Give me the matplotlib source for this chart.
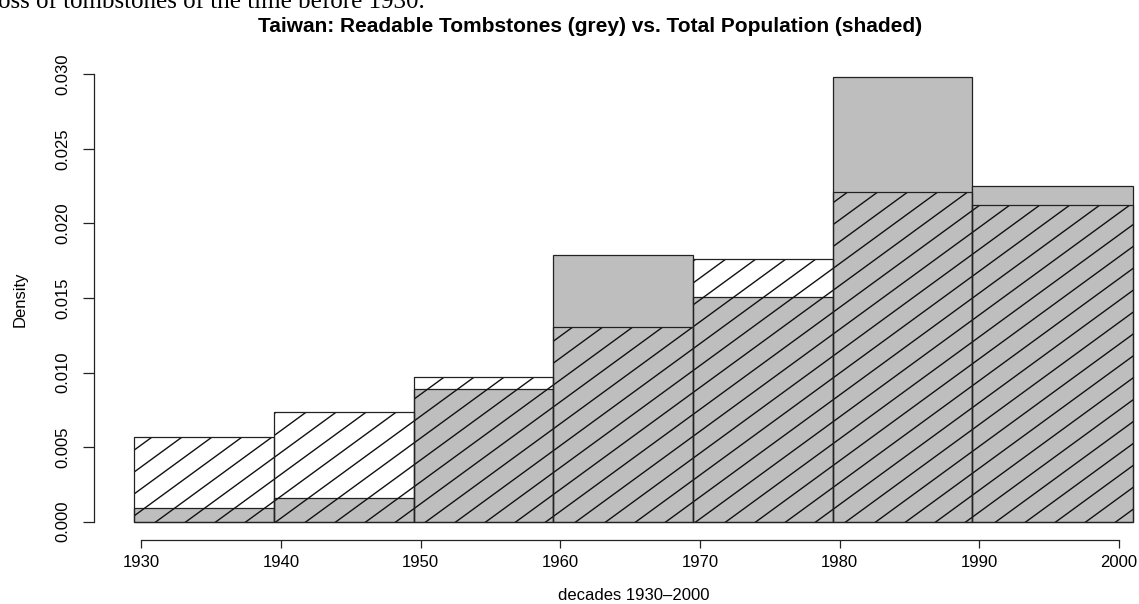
import numpy as np
import matplotlib
matplotlib.use("Agg")
import matplotlib.pyplot as plt
from matplotlib.collections import LineCollection

plt.rcParams["font.family"] = ["Liberation Sans", "DejaVu Sans"]

# histogram data (density, 10-year bins, last bin runs to 2001)
bin_edges = [1929.5, 1939.5, 1949.5, 1959.5, 1969.5, 1979.5, 1989.5, 2001.0]
tombstones = [0.0009, 0.00161, 0.00888, 0.01788, 0.01509, 0.02984, 0.02253]
population = [0.00566, 0.00738, 0.00968, 0.01304, 0.01762, 0.02213, 0.02124]
decade_ticks = [1930, 1940, 1950, 1960, 1970, 1980, 1990, 2000]
density_ticks = [0.000, 0.005, 0.010, 0.015, 0.020, 0.025, 0.030]

W, H = 1139, 604
fig = plt.figure(figsize=(W / 100, H / 100), dpi=100)
ax = fig.add_axes([94.3 / W, (H - 539.5) / H, 1078.5 / W, 480.6 / H])

edges = np.array(bin_edges)
lefts = edges[:-1]
widths = np.diff(edges)

# grey histogram first
ax.bar(lefts, tombstones, width=widths, align="edge", color="#bebebe",
       edgecolor="#222222", linewidth=0.9, zorder=1)

# shaded histogram on top: outline only, lines drawn by hand (R style shading)
outline = ax.bar(lefts, population, width=widths, align="edge", fill=False,
                 edgecolor="#222222", linewidth=0.9, zorder=3)

slope = 0.73
spacing = 30 / 100  # inches, horizontal spacing between shading lines
x_phase = 555 / 100
y_phase = (H - 340) / 100
hgt = H / 100
segs = []
for k in range(-80, 80):
    xb = x_phase + k * spacing - y_phase / slope  # x where line crosses y=0
    segs.append([(xb, 0), (xb + hgt / slope, hgt)])

for rect in outline:
    lc = LineCollection(segs, colors="#111111", linewidths=1.0,
                        transform=fig.dpi_scale_trans, zorder=2)
    ax.add_collection(lc, autolim=False)
    lc.set_clip_path(rect)

ax.set_xlim(1926.64, 2003.86)
ax.set_ylim(-0.001194, 0.031034)

for s in ["top", "right"]:
    ax.spines[s].set_visible(False)
ax.spines["left"].set_bounds(0, 0.03)
ax.spines["bottom"].set_bounds(1930, 2000)
for s in ["left", "bottom"]:
    ax.spines[s].set_linewidth(0.9)
    ax.spines[s].set_color("#222222")

ax.set_xticks(decade_ticks)
ax.set_xticklabels([str(t) for t in decade_ticks])
ax.set_yticks(density_ticks)
ax.set_yticklabels([f"{t:.3f}" for t in density_ticks], rotation=90,
                   va="center")
ax.tick_params(axis="x", length=6, width=0.9, labelsize=12, pad=5,
               color="#222222")
ax.tick_params(axis="y", length=8, width=0.9, labelsize=12, pad=9,
               color="#222222")

ax.set_xlabel("decades 1930\u20132000", fontsize=12, labelpad=13)
ax.set_ylabel("Density", fontsize=12, labelpad=20)
fig.text(590 / W, 1 - 26 / H,
         "Taiwan: Readable Tombstones (grey) vs. Total Population (shaded)",
         ha="center", va="center", fontsize=15, fontweight="bold")

# cut-off caption line from the source document
fig.text(-2 / W, 1 - 8 / H, "oss of tombstones of the time before 1930.",
         ha="left", va="baseline", fontsize=18, family="Liberation Serif")

fig.savefig("out.png", dpi=100)
